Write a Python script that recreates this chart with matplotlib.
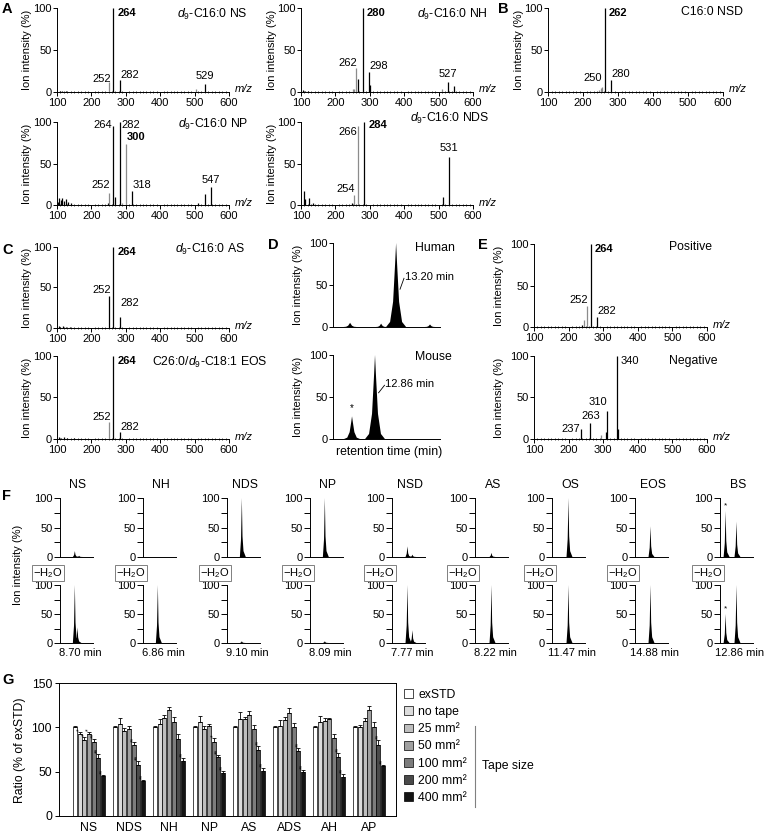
import numpy as np
import matplotlib
matplotlib.use("Agg")
import matplotlib.pyplot as plt
from matplotlib.patches import Patch
from matplotlib.lines import Line2D

plt.rcParams["font.family"] = ["Liberation Sans", "DejaVu Sans"]
plt.rcParams["mathtext.fontset"] = "custom"
plt.rcParams["mathtext.rm"] = "Liberation Sans"
plt.rcParams["mathtext.it"] = "Liberation Sans:italic"
plt.rcParams["mathtext.bf"] = "Liberation Sans:bold"
plt.rcParams["axes.linewidth"] = 0.7

# ---------------- data ----------------
# A / B / C / E : MS/MS spectra (m/z, relative intensity %)
ns_mz = [108, 115, 125, 252, 264, 282, 505, 529]
ns_int = [1, 1, 1, 12, 100, 14, 4, 10]
nh_mz = [105, 112, 120, 250, 255, 260, 265, 280, 298, 302, 510, 527, 545]
nh_int = [2, 1, 1, 3, 4, 28, 16, 100, 24, 8, 3, 12, 7]
nsd_mz = [245, 250, 253, 262, 280]
nsd_int = [2, 5, 6, 100, 14]
np_mz = [103, 107, 111, 115, 120, 126, 132, 142, 248, 252, 264, 270, 282, 288, 300, 318, 510, 529, 547]
np_int = [4, 8, 6, 9, 5, 7, 4, 2, 2, 15, 95, 10, 100, 3, 73, 17, 2, 13, 22]
nds_mz = [108, 113, 122, 135, 248, 254, 266, 284, 513, 531]
nds_int = [17, 7, 9, 2, 2, 12, 95, 100, 10, 58]
as_mz = [105, 110, 118, 125, 138, 252, 264, 282]
as_int = [2, 1, 2, 1, 1, 40, 100, 14]
eos_mz = [105, 112, 120, 130, 150, 252, 264, 282]
eos_int = [2, 1, 2, 1, 1, 20, 100, 8]
pos_mz = [240, 245, 252, 264, 282]
pos_int = [3, 8, 25, 100, 12]
neg_mz = [237, 263, 295, 308, 310, 340, 343]
neg_int = [12, 19, 5, 8, 34, 100, 12]

# D : chromatograms (retention time, height, half width)
human_rt = [11.45, 12.63, 13.20, 14.49]
human_h = [5, 4, 100, 3]
human_w = [0.25, 0.2, 0.38, 0.2]
mouse_rt = [12.28, 12.86]
mouse_h = [27, 100]
mouse_w = [0.2, 0.25]

# F : ceramide class chromatograms (relative position, height)
f_names = ["NS", "NH", "NDS", "NP", "NSD", "AS", "OS", "EOS", "BS"]
f_times = ["8.70 min", "6.86 min", "9.10 min", "8.09 min", "7.77 min",
           "8.22 min", "11.47 min", "14.88 min", "12.86 min"]
f_top_pos = [[0.45, 0.58], [], [0.45], [0.45], [0.47, 0.62], [0.5], [0.5], [0.47], [0.17, 0.5]]
f_top_h = [[10, 2], [], [100], [100], [18, 4], [7], [100], [52], [78, 60]]
f_bot_pos = [[0.45, 0.53], [0.45], [0.45], [0.45], [0.47, 0.62], [0.5], [0.5], [0.47], [0.17, 0.5]]
f_bot_h = [[100, 27], [100], [3], [3], [100, 22], [100], [100], [100], [50, 100]]

# G : ratio (% of exSTD)
g_groups = ["NS", "NDS", "NH", "NP", "AS", "ADS", "AH", "AP"]
g_series = ["exSTD", "no tape", "25 mm²", "50 mm²", "100 mm²", "200 mm²", "400 mm²"]
g_ratio = [
    [100, 92, 86, 93, 84, 65, 45],
    [100, 104, 96, 98, 80, 58, 39],
    [100, 104, 111, 120, 106, 87, 62],
    [100, 106, 98, 102, 84, 66, 49],
    [100, 109, 109, 114, 98, 74, 51],
    [100, 102, 108, 116, 100, 73, 50],
    [100, 106, 107, 109, 88, 66, 44],
    [100, 100, 107, 120, 100, 80, 56],
]
g_err = [
    [2, 3, 3, 2, 3, 5, 1],
    [1, 7, 3, 3, 3, 4, 2],
    [1, 5, 3, 3, 6, 6, 3],
    [1, 7, 3, 2, 4, 3, 2],
    [1, 8, 3, 4, 5, 5, 3],
    [1, 6, 4, 6, 5, 4, 2],
    [1, 7, 3, 2, 5, 5, 3],
    [1, 3, 4, 4, 6, 6, 2],
]
g_stars = [
    ["", "*", "*", "*", "**", "**", "**"],
    ["", "", "", "", "**", "**", "**"],
    ["", "", "", "", "", "", "**"],
    ["", "", "", "", "*", "**", "**"],
    ["", "", "", "", "", "**", "**"],
    ["", "", "", "", "", "**", "**"],
    ["", "", "", "", "", "**", "**"],
    ["", "", "", "", "", "**", "**"],
]

# ---------------- layout helpers ----------------
W, H = 766, 832
fig = plt.figure(figsize=(W / 100, H / 100), dpi=100)
GRAY = "#8c8c8c"
FS = 8
TFS = 8.8


def px_ax(x0, y0, x1, y1):
    return fig.add_axes([x0 / W, 1 - y1 / H, (x1 - x0) / W, (y1 - y0) / H])


def ftext(x, y, s, **kw):
    fig.text(x / W, 1 - y / H, s, **kw)


def ylab(box, xpx):
    ftext(xpx, (box[1] + box[3]) / 2, "Ion intensity (%)", rotation=90,
          ha="center", va="center", fontsize=FS)


def spectrum(box, mz, inten, gray, labels, title, title_px, ylab_x):
    ax = px_ax(*box)
    cols = [GRAY if m in gray else "black" for m in mz]
    ax.vlines(mz, 0, inten, colors=cols, lw=0.9, clip_on=False)
    ax.set_xlim(100, 600)
    ax.set_ylim(0, 100)
    ax.spines["top"].set_visible(False)
    ax.spines["right"].set_visible(False)
    ax.set_xticks(np.arange(100, 601, 100))
    ax.set_xticks(np.arange(100, 601, 10), minor=True)
    ax.set_yticks([0, 50, 100])
    ax.tick_params(which="major", length=3, width=0.7, pad=1, labelsize=FS)
    ax.tick_params(axis="x", which="minor", length=2, width=0.5, direction="inout")
    ax.tick_params(axis="y", which="minor", length=0)
    ax.text(1.035, 0.03, "m/z", style="italic", transform=ax.transAxes,
            ha="left", va="center", fontsize=FS)
    for txt, x, y, ha, bold in labels:
        ax.text(x, y, txt, ha=ha, va="center", fontsize=FS,
                fontweight="bold" if bold else "normal")
    ftext(title_px[0], title_px[1], title, ha="right", va="center", fontsize=TFS)
    ylab(box, ylab_x)
    return ax


# ---------------- A, B, C, E spectra ----------------
spectrum((57, 8, 229, 92), ns_mz, ns_int, [252, 505],
         [("264", 276, 94, "left", True), ("252", 258, 16, "right", False),
          ("282", 283, 20, "left", False), ("529", 529, 19, "center", False)],
         r"$d_9$-C16:0 NS", (248, 14), 27)
spectrum((301, 8, 473, 92), nh_mz, nh_int, [260, 250, 255, 510],
         [("280", 292, 94, "left", True), ("262", 264, 35, "right", False),
          ("298", 300, 31, "left", False), ("527", 527, 22, "center", False)],
         r"$d_9$-C16:0 NH", (488, 14), 272)
spectrum((548, 8, 723, 92), nsd_mz, nsd_int, [245, 250, 253],
         [("262", 274, 94, "left", True), ("250", 253, 17, "right", False),
          ("280", 282, 21, "left", False)],
         "C16:0 NSD", (743, 12), 519)
spectrum((57, 122, 229, 205), np_mz, np_int, [252, 288, 300],
         [("264", 261, 96, "right", False), ("282", 286, 96, "left", False),
          ("300", 302, 82, "left", True), ("252", 255, 24, "right", False),
          ("318", 320, 24, "left", False), ("547", 547, 30, "center", False)],
         r"$d_9$-C16:0 NP", (248, 124), 27)
spectrum((301, 122, 473, 205), nds_mz, nds_int, [254, 266],
         [("266", 262, 88, "right", False), ("284", 296, 96, "left", True),
          ("254", 257, 19, "right", False), ("531", 531, 69, "center", False)],
         r"$d_9$-C16:0 NDS", (489, 118), 272)
spectrum((57, 247, 229, 328), as_mz, as_int, [],
         [("264", 276, 94, "left", True), ("252", 258, 47, "right", False),
          ("282", 283, 31, "left", False)],
         r"$d_9$-C16:0 AS", (245, 249), 27)
spectrum((57, 356, 229, 439), eos_mz, eos_int, [252],
         [("264", 276, 94, "left", True), ("252", 258, 27, "right", False),
          ("282", 283, 15, "left", False)],
         r"C26:0/$d_9$-C18:1 EOS", (268, 362), 27)
spectrum((534, 244, 707, 327), pos_mz, pos_int, [245, 252],
         [("264", 276, 94, "left", True), ("252", 257, 32, "right", False),
          ("282", 283, 19, "left", False)],
         "Positive", (712, 247), 499)
spectrum((534, 356, 707, 439), neg_mz, neg_int, [295],
         [("340", 350, 94, "left", False), ("310", 312, 45, "right", False),
          ("263", 263, 28, "center", False), ("237", 233, 12, "right", False)],
         "Negative", (718, 361), 499)

# ---------------- D chromatograms ----------------
peak_dx = np.array([-1, -0.6, -0.3, -0.1, 0, 0.1, 0.3, 0.6, 1])
peak_dy = np.array([0, 0.06, 0.3, 0.75, 1, 0.75, 0.3, 0.06, 0])


def chrom_axes(box, xlim):
    ax = px_ax(*box)
    ax.set_xlim(*xlim)
    ax.set_ylim(0, 100)
    ax.spines["top"].set_visible(False)
    ax.spines["right"].set_visible(False)
    ax.set_xticks([])
    ax.set_yticks([0, 50, 100])
    ax.tick_params(axis="y", length=3, width=0.7, pad=1, labelsize=FS)
    return ax


ax = chrom_axes((333, 243, 440, 327), (10.8, 14.87))
for c, h, w in zip(human_rt, human_h, human_w):
    ax.fill(c + peak_dx * w, h * peak_dy, color="black", lw=0, clip_on=False)
ax.plot([13.35, 13.5], [45, 58], color="black", lw=0.6)
ax.text(13.52, 60, "13.20 min", ha="left", va="center", fontsize=FS)
ftext(455, 248, "Human", ha="right", va="center", fontsize=TFS)
ylab((333, 243, 440, 327), 298)

ax = chrom_axes((333, 355, 440, 439), (11.8, 14.5))
for c, h, w in zip(mouse_rt, mouse_h, mouse_w):
    ax.fill(c + peak_dx * w, h * peak_dy, color="black", lw=0, clip_on=False)
ax.text(mouse_rt[0], mouse_h[0] + 4, "*", ha="center", va="bottom", fontsize=7)
ax.plot([12.95, 13.1], [55, 64], color="black", lw=0.6)
ax.text(13.12, 65, "12.86 min", ha="left", va="center", fontsize=FS)
ftext(452, 357, "Mouse", ha="right", va="center", fontsize=TFS)
ylab((333, 355, 440, 439), 298)
ftext(389, 452, "retention time (min)", ha="center", va="center", fontsize=TFS)

# ---------------- F ----------------
spike_dx = np.array([-0.06, -0.025, 0, 0.02, 0.05, 0.12])
spike_dy = np.array([0, 0.3, 1, 0.35, 0.1, 0])
f_left = [60, 143, 227, 310, 392, 475, 552, 635, 720]
f_rows = [(498, 557), (585, 643)]

for i, name in enumerate(f_names):
    x0 = f_left[i]
    for row, (y0, y1) in enumerate(f_rows):
        ax = px_ax(x0, y0, x0 + 33, y1)
        pos = f_top_pos[i] if row == 0 else f_bot_pos[i]
        hts = f_top_h[i] if row == 0 else f_bot_h[i]
        for c, h in zip(pos, hts):
            ax.fill(c + spike_dx, h * spike_dy, color="black", lw=0, clip_on=False)
        ax.set_xlim(0, 1)
        ax.set_ylim(0, 100)
        ax.spines["top"].set_visible(False)
        ax.spines["right"].set_visible(False)
        ax.set_xticks([])
        ax.set_yticks([0, 25, 50, 75, 100])
        ax.set_yticklabels(["0", "", "50", "", "100"])
        ax.tick_params(axis="y", length=4, width=0.7, pad=1, labelsize=FS)
        if name == "BS":
            ax.text(pos[0], hts[0] + 3, "*", ha="center", va="bottom", fontsize=6)
    ftext(x0 + 18, 485, name, ha="center", va="center", fontsize=TFS)
    ftext(x0 - 27, 573, r"$-$H$_2$O", ha="left", va="center", fontsize=FS,
          bbox=dict(boxstyle="square,pad=0.12", fc="white", ec="#808080", lw=0.7))
    ftext(x0 + 20, 653, f_times[i], ha="center", va="center", fontsize=FS)
ftext(18, 565, "Ion intensity (%)", rotation=90, ha="center", va="center", fontsize=FS)

# ---------------- G ----------------
g_colors = ["white", "#dcdcdc", "#bebebe", "#a0a0a0", "#7c7c7c", "#4a4a4a", "#141414"]
ax = px_ax(59, 683, 396, 816)
pitch = 0.115
for j in range(len(g_series)):
    xs = np.arange(len(g_groups)) + (j - 3) * pitch
    vals = [g_ratio[k][j] for k in range(len(g_groups))]
    errs = [g_err[k][j] for k in range(len(g_groups))]
    ax.bar(xs, vals, width=0.1, color=g_colors[j], edgecolor="black", lw=0.5)
    ax.errorbar(xs, vals, yerr=[np.zeros(len(errs)), errs], fmt="none",
                ecolor="black", elinewidth=0.6, capsize=1.4, capthick=0.6)
    for k in range(len(g_groups)):
        if g_stars[k][j]:
            ax.text(xs[k], vals[k] + errs[k] + 1, g_stars[k][j], rotation=90,
                    ha="center", va="bottom", fontsize=5)
ax.set_xlim(-0.75, 7.67)
ax.set_ylim(0, 150)
ax.set_yticks([0, 50, 100, 150])
ax.set_xticks(np.arange(len(g_groups)))
ax.set_xticklabels(g_groups)
ax.tick_params(axis="x", length=0, pad=4, labelsize=TFS)
ax.tick_params(axis="y", length=3, width=0.7, pad=2, labelsize=TFS)
ftext(20, 750, "Ratio (% of exSTD)", rotation=90, ha="center", va="center", fontsize=TFS)

handles = [Patch(facecolor=c, edgecolor="black", lw=0.5) for c in g_colors]
fig.legend(handles, g_series, loc="upper left", bbox_to_anchor=(404 / W, 1 - 689 / H),
           frameon=False, fontsize=TFS, handlelength=0.75, handleheight=0.75,
           handletextpad=0.4, labelspacing=0.42, borderaxespad=0, borderpad=0)
fig.add_artist(Line2D([475 / W, 475 / W], [1 - 726 / H, 1 - 807 / H],
                      color="#808080", lw=0.8))
ftext(482, 766, "Tape size", ha="left", va="center", fontsize=TFS)

# ---------------- panel letters ----------------
for letter, x, y in [("A", 2, 9), ("B", 498, 9), ("C", 2, 250), ("D", 268, 245),
                     ("E", 478, 245), ("F", 2, 496), ("G", 2, 680)]:
    ftext(x, y, letter, ha="left", va="center", fontsize=10.5, fontweight="bold")

fig.savefig("out.png", dpi=100)
